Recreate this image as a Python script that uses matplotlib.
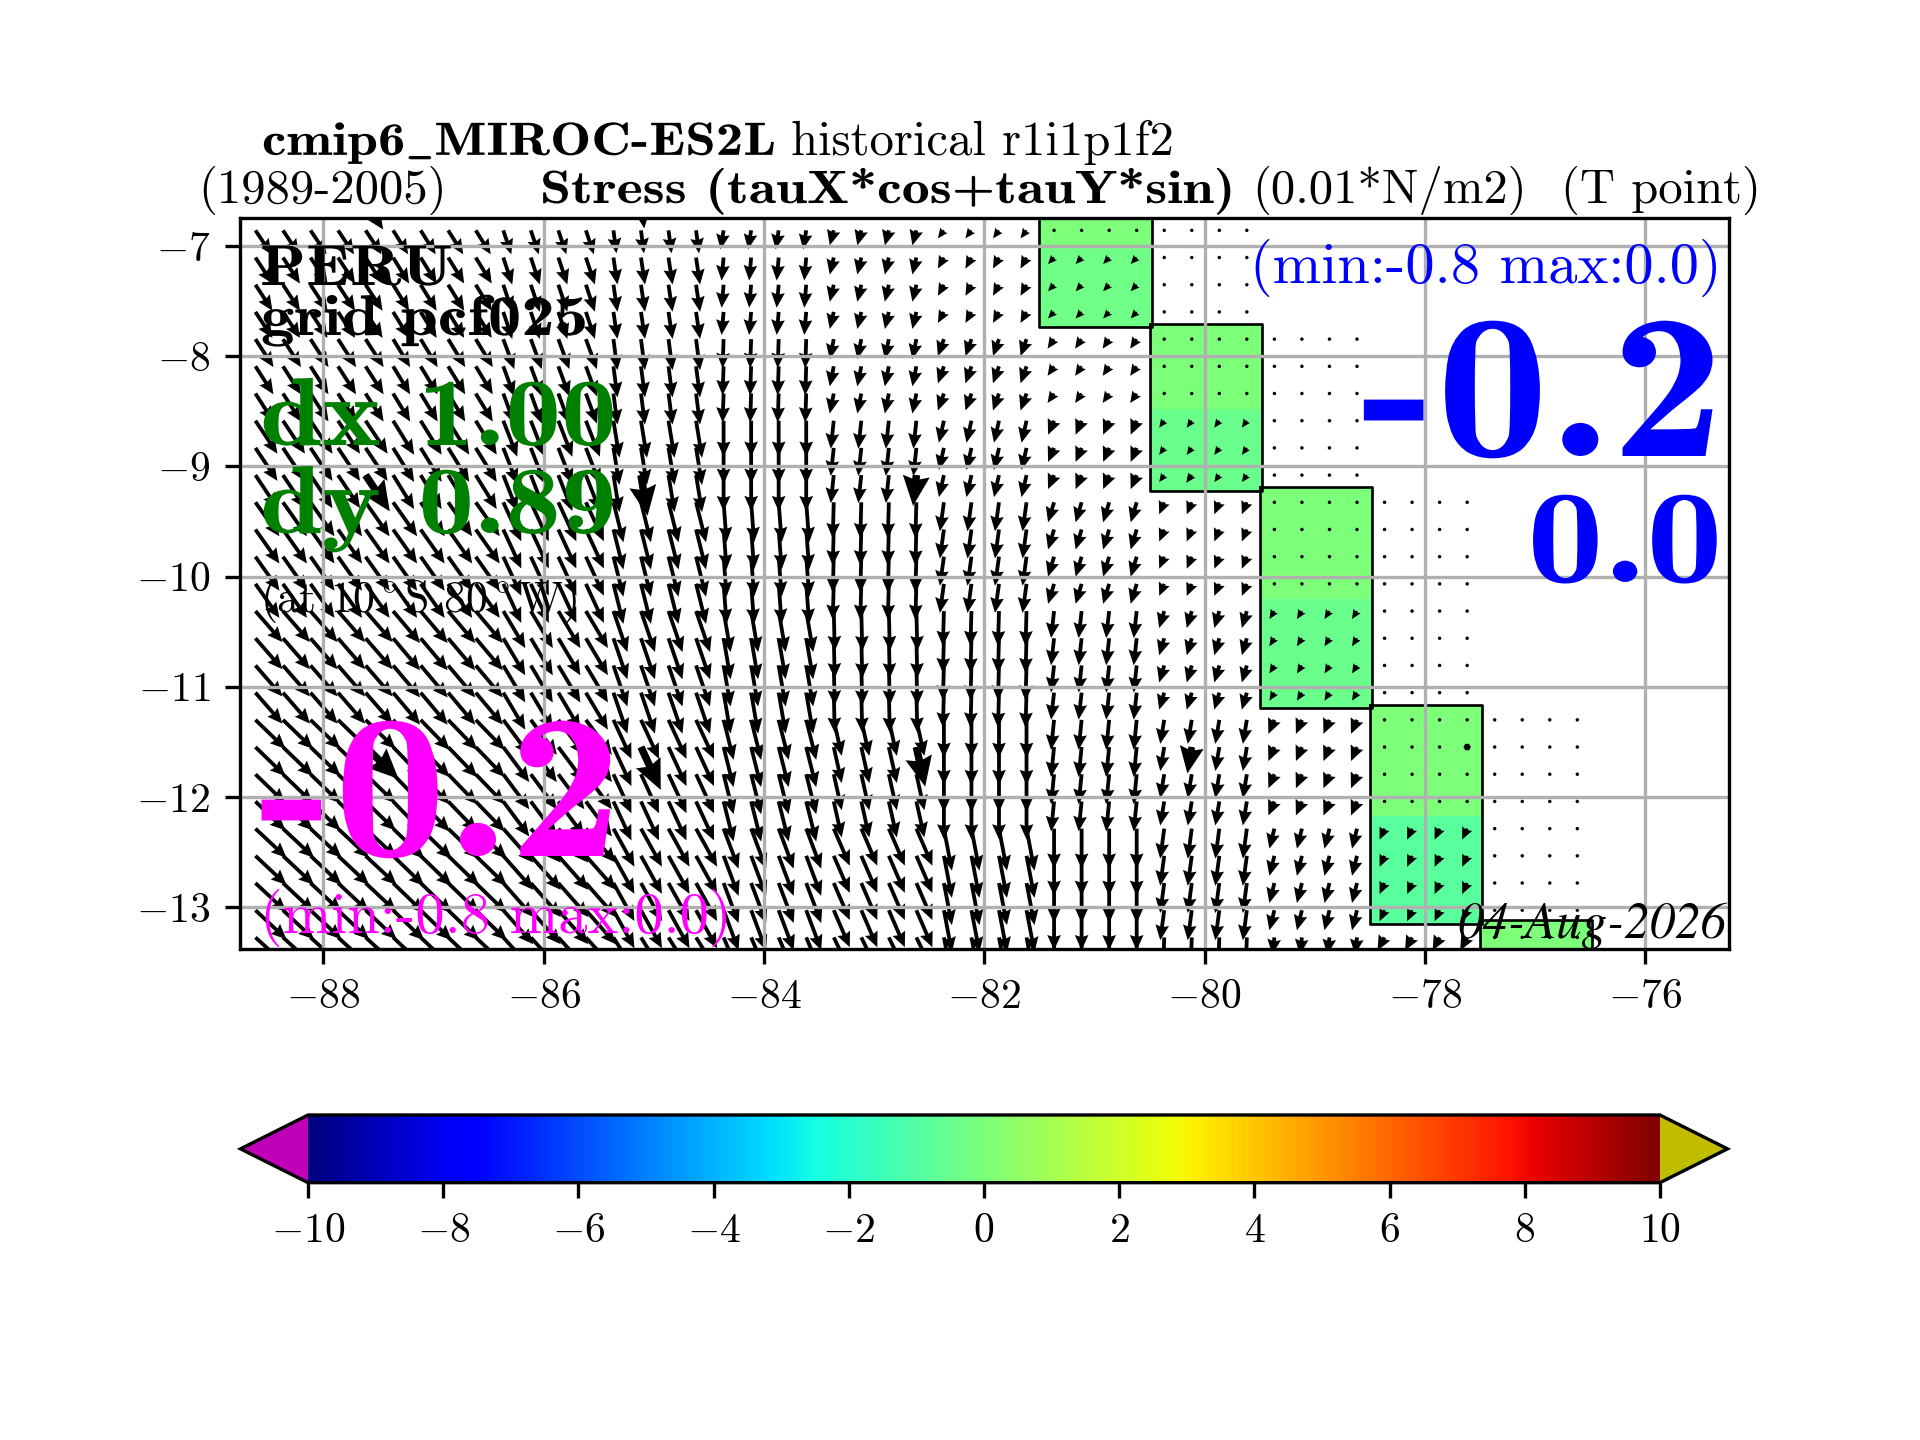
import numpy as np
import matplotlib
matplotlib.use("Agg")
import matplotlib.pyplot as plt
from matplotlib.colors import Normalize
from matplotlib.cm import ScalarMappable
from matplotlib.ticker import FuncFormatter
from matplotlib.patheffects import AbstractPathEffect
from matplotlib.transforms import Affine2D

plt.rcParams['mathtext.fontset'] = 'cm'
plt.rcParams['font.family'] = ['cmr10', 'DejaVu Serif']
plt.rcParams['axes.unicode_minus'] = False

# Vector grid (model cells of 1 deg x 0.89 deg sampled on a finer point grid)
lon_points = -88.617 + 0.25 * np.arange(49)
lat_points = -6.858 - 0.2468 * np.arange(27)
lon_blocks = [0, 1, 1, 1, 1, 2, 2, 2, 2, 3, 3, 3, 3, 4, 4, 4, 4, 5, 5, 5, 5, 6, 6, 6, 6,
              7, 7, 7, 7, 8, 8, 8, 8, 9, 9, 9, 9, 10, 10, 10, 10, 11, 11, 11, 11, 12, 12, 12, 12]
lat_blocks = [0, 1, 1, 1, 2, 2, 2, 3, 3, 3, 4, 4, 4, 4, 5, 5, 5, 5, 6, 6, 6, 6, 7, 7, 7, 7, 8]

n = np.nan
# zonal stress per cell (rows: north to south, columns: west to east)
tau_x = [
    [16, 16, 15, 8, 3, -3, -4, -6, 0, 0, n, n, n],
    [17, 17, 16, 9, 4, -2, -4, -6, -6, 0, n, n, n],
    [18, 18, 17, 11, 4, -1, -4, -6, -6.5, 0, 0, n, n],
    [22, 22, 21, 14, 6, 0, -3, -5, -6, -5, 0, n, n],
    [24, 24, 24, 18, 10, 3, -1, -4, -6, -5, 0, 0, n],
    [27, 27, 27, 22, 14, 7, 1, -1, -3, -5, -5, 0, n],
    [30, 30, 29, 26, 18, 10, 8, 0, -3, -4, -6, 0, 0],
    [31, 31, 31, 30, 21, 15, 16, 8, 0, -4, -5, -5, 0],
    [32, 32, 32, 30, 23, 17, 18, 8, 0, -1, -2, -7, 0],
]
# meridional stress per cell (negative: southward)
tau_y = [
    [-24, -24, -24, -24, -23, -19, -15, -8, 0, 0, n, n, n],
    [-26, -26, -26, -27, -27, -23, -17, -11, -6.5, 0, n, n, n],
    [-28, -28, -28, -30, -31, -29, -20, -17, -9.5, 0, 0, n, n],
    [-33, -33, -34, -36, -37, -36, -28, -22, -14, -7, 0, n, n],
    [-34, -34, -34, -39, -40, -40, -36, -29, -20, -12, 0, 0, n],
    [-31, -31, -32, -37, -41, -41, -40, -35, -27, -17, -8, 0, n],
    [-29, -29, -30, -35, -39, -40, -36, -38, -30, -24, -14, 0, 0],
    [-29, -29, -30, -34, -38, -40, -37, -42, -40, -30, -20, -11, 0],
    [-29, -29, -30, -33, -37, -40, -37, -42, -40, -30, -17, -13, 0],
]

# Coastal cells of the bias field
cell_lon_west = [-81.50, -80.50, -79.50, -78.50, -77.50]
cell_lon_east = [-80.48, -79.48, -78.48, -77.48, -76.48]
cell_lat_north = [-6.60, -7.71, -9.19, -11.17, -13.12]
cell_lat_split = [-7.00, -8.48, -10.20, -12.17, -13.30]
cell_lat_south = [-7.735, -9.22, -11.19, -13.15, -13.50]
cell_value_north = [0.0, 0.0, 0.0, 0.0, 0.0]
cell_value_south = [-0.3, -0.4, -0.4, -0.8, 0.0]

xticks = [-88, -86, -84, -82, -80, -78, -76]
yticks = [-7, -8, -9, -10, -11, -12, -13]
cbar_ticks = [-10, -8, -6, -4, -2, 0, 2, 4, 6, 8, 10]

W, H = 1920, 1440
plt.rcParams['axes.linewidth'] = 1.0
plt.rcParams['xtick.major.width'] = 1.0
plt.rcParams['ytick.major.width'] = 1.0
fig = plt.figure(figsize=(8, 6), dpi=240)
ax = fig.add_axes([240 / W, 1 - 949 / H, (1729 - 240) / W, (949 - 218) / H])
norm = Normalize(-10, 10)
cmap = plt.get_cmap('jet').copy()
cmap.set_under('#c000b8')
cmap.set_over('#c0bc00')

for i in range(5):
    ax.pcolormesh([cell_lon_west[i], cell_lon_east[i]],
                  [cell_lat_north[i], cell_lat_split[i], cell_lat_south[i]],
                  [[cell_value_north[i]], [cell_value_south[i]]],
                  cmap=cmap, norm=norm, zorder=1, shading='flat')
    ax.plot([cell_lon_west[i], cell_lon_west[i], cell_lon_east[i], cell_lon_east[i], cell_lon_west[i]],
            [cell_lat_north[i], cell_lat_south[i], cell_lat_south[i], cell_lat_north[i], cell_lat_north[i]],
            color='k', lw=0.8, zorder=1.5)

tx = np.array(tau_x, float)[np.ix_(lat_blocks, lon_blocks)]
ty = np.array(tau_y, float)[np.ix_(lat_blocks, lon_blocks)]
X, Y = np.meshgrid(lon_points, lat_points)
qkw = dict(angles='uv', scale_units='dots', pivot='tail', color='k', zorder=2,
           headwidth=3.6, headlength=4.0, headaxislength=3.6)
ax.quiver(X, Y, tx, ty, scale=1, width=3.8 / 1489, **qkw)

# every tenth point is drawn larger
sel_j = [4, 14, 24, 34, 44]
sel_k = [9, 19]
XB, YB = np.meshgrid(lon_points[sel_j], lat_points[sel_k])
ax.quiver(XB, YB, tx[np.ix_(sel_k, sel_j)], ty[np.ix_(sel_k, sel_j)], scale=1 / 1.1,
          width=7.5 / 1489, **qkw)
ax.quiver(lon_points[sel_j], np.full(5, lat_points[0] + 0.2468),
          np.array(tau_x[0], float)[[lon_blocks[j] for j in sel_j]],
          np.array(tau_y[0], float)[[lon_blocks[j] for j in sel_j]], scale=1 / 1.1,
          width=7.5 / 1489, **qkw)

ax.set_xlim(-88.757, -75.24)
ax.set_ylim(-13.38, -6.746)
ax.set_xticks(xticks)
ax.set_yticks(yticks)
fmt = FuncFormatter(lambda v, p: f'${v:.0f}$')
ax.xaxis.set_major_formatter(fmt)
ax.yaxis.set_major_formatter(fmt)
ax.tick_params(labelsize=12.5, length=4.5, pad=4.4)
ax.grid(True, color='#b0b0b0', lw=1.0, zorder=10)
ax.set_axisbelow(False)
for g in ax.get_xgridlines() + ax.get_ygridlines():
    g.set_zorder(10)
for s in ax.spines.values():
    s.set_zorder(11)

bold = ['cmb10', 'DejaVu Serif']
reg = ['cmr10', 'DejaVu Serif']


class Stretch(AbstractPathEffect):
    """Widen a text horizontally about its anchor (bold CM extended look)."""

    def __init__(self, x0, sx):
        super().__init__()
        self.x0, self.sx = x0, sx

    def draw_path(self, renderer, gc, tpath, affine, rgbFace=None):
        t = affine + Affine2D().translate(-self.x0, 0).scale(self.sx, 1).translate(self.x0, 0)
        renderer.draw_path(gc, tpath, t, rgbFace)


def add_text(target, px, py, s, size, family, color, ha, sx, **kw):
    t = target.text(px / W, 1 - py / H, s, transform=fig.transFigure, fontsize=size, family=family,
                    color=color, ha=ha, va='baseline', zorder=5, clip_on=False, **kw)
    if sx != 1:
        t.set_path_effects([Stretch(px, sx)])
    return t


def put(px, py, s, size, family=reg, color='k', ha='left', sx=1, **kw):
    return add_text(fig, px, py, s, size, family, color, ha, sx, **kw)


def put_in(px, py, s, size, family=reg, color='k', ha='right', sx=1, **kw):
    return add_text(ax, px, py, s, size, family, color, ha, sx, **kw)


put(262, 155, r'cmip6$\_$MIROC-ES2L', 14, bold, sx=1.178)
put(791, 155, 'historical r1i1p1f2', 14.6)
put(198, 203, '(1989-2005)', 14.6)
put(540, 203, 'Stress (tauX*cos+tauY*sin)', 14, bold, sx=1.197)
put(1252, 203, '(0.01*N/m2)', 14.6)
put(1561, 203, '(T point)', 14.6)

put_in(260, 285, 'PERU', 17.28, bold, ha='left', sx=1.17)
put_in(261, 335, 'grid pcf025', 17.28, bold, ha='left', sx=1.16)
put_in(260, 445, 'dx 1.00', 29, bold, color='#008000', ha='left', sx=1.157)
put_in(260, 533, 'dy 0.89', 29, bold, color='#008000', ha='left', sx=1.157)
put_in(260, 612, r'(at 10$^\circ$S 80$^\circ$W)', 13.1, ha='left')
put_in(259, 856, '-0.2', 62, bold, color='#ff00ff', ha='left', sx=1.09)
put_in(260, 933, '(min:-0.8 max:0.0)', 17.55, color='#ff00ff', ha='left')
put_in(1722, 283, '(min:-0.8 max:0.0)', 17.55, color='#0000ff')
put_in(1724, 456, '-0.2', 62, bold, color='#0000ff', sx=1.09)
put_in(1723, 582, '0.0', 40, bold, color='#0000ff', sx=1.15)
put_in(1726, 938, '04-Aug-2026', 15.3, family=['STIXGeneral'], style='italic')

cax = fig.add_axes([240.5 / W, 1 - 1182.7 / H, (1727.5 - 240.5) / W, (1182.7 - 1115) / H])
cb = fig.colorbar(ScalarMappable(norm=norm, cmap=cmap), cax=cax, orientation='horizontal',
                  extend='both', ticks=cbar_ticks)
cb.ax.xaxis.set_major_formatter(fmt)
cb.ax.tick_params(labelsize=12.5, length=4.5, pad=4.4)
cb.outline.set_linewidth(1.0)

fig.savefig('out.png', dpi=240)
